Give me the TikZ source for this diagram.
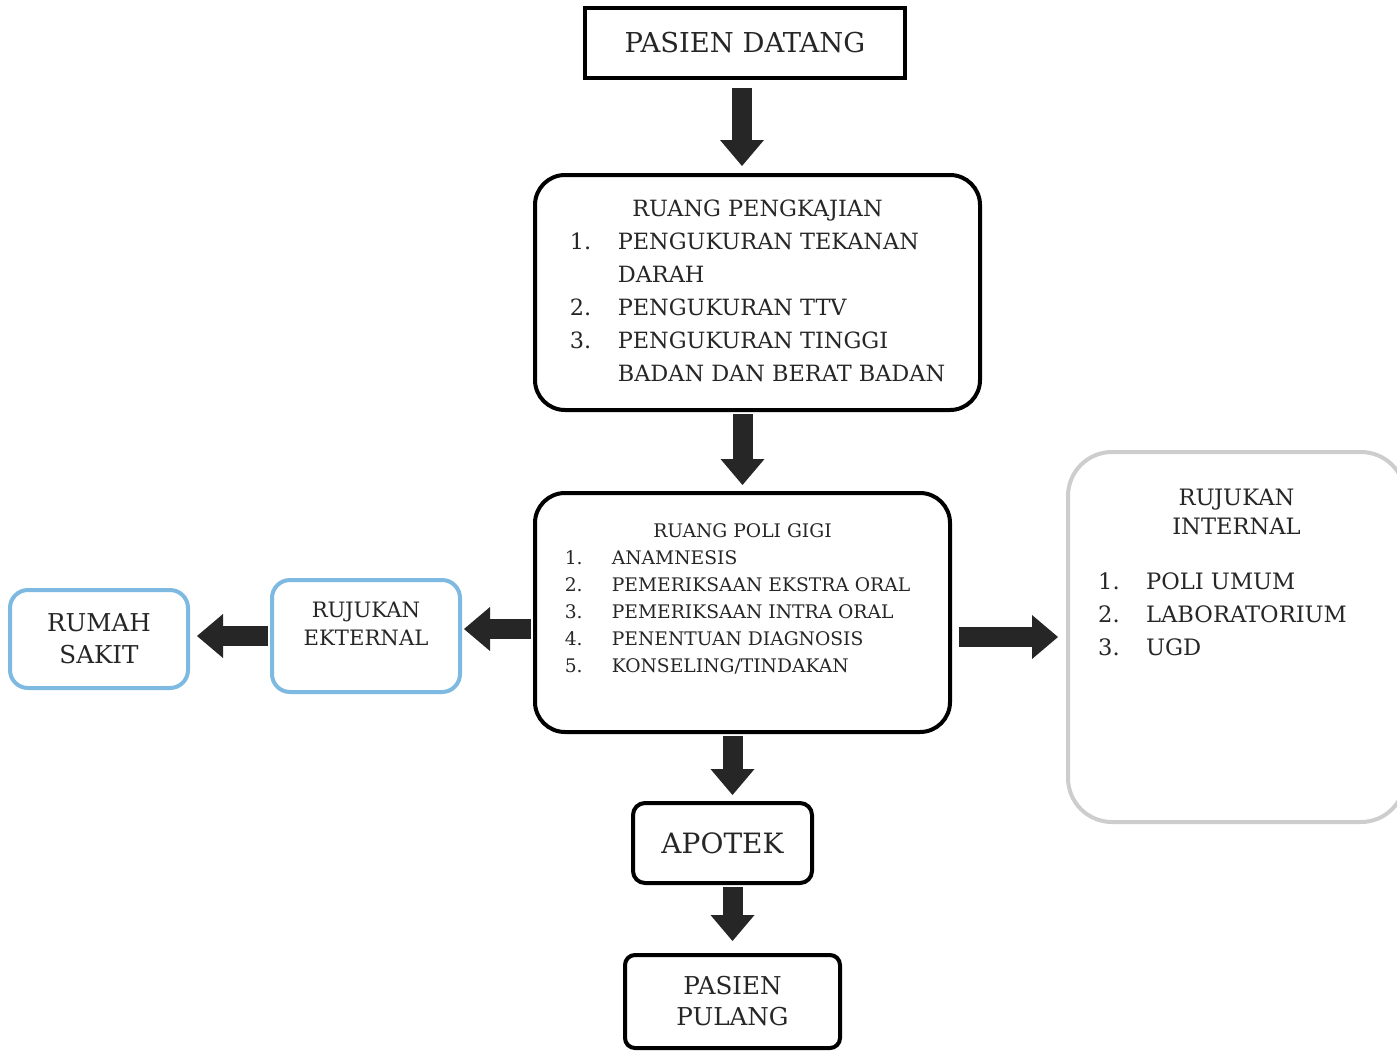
\documentclass[tikz,border=0pt]{standalone}
\usepackage{fontspec}
\setmainfont{DejaVu Serif}
\usetikzlibrary{arrows.meta}
\definecolor{bluebox}{RGB}{125,185,225}
\definecolor{greybox}{RGB}{205,205,205}

\begin{document}
\begin{tikzpicture}[x=0.5pt,y=-0.5pt]
 \tikzset{box/.style={draw=black,line width=2pt,text=black!85,inner sep=0pt,align=center},
  bluebox/.style={box,draw=bluebox,rounded corners=9pt},
  arrow/.style={line width=10pt,draw=black!85,-{Triangle[length=13pt,width=22pt,line width=0pt]},shorten <=1pt,shorten >=3pt}}
 \useasboundingbox (0,0) rectangle (1397,1050);

 \node[box,minimum width=160pt,minimum height=35pt,font=\fontsize{13.7}{16}\selectfont] (datang) at (745,43) {PASIEN DATANG};
 \node[box,rounded corners=15pt,minimum width=222.5pt,minimum height=117.5pt,font=\fontsize{11.2}{16.5}\selectfont] (kajian) at (757.5,292.5) {%
  \begin{tabular}{@{}p{24pt}@{}l@{}}
   \multicolumn{2}{c}{RUANG PENGKAJIAN}\\
   1. & PENGUKURAN TEKANAN\\
      & DARAH\\
   2. & PENGUKURAN TTV\\
   3. & PENGUKURAN TINGGI\\
      & BADAN DAN BERAT BADAN
  \end{tabular}};
 \node[box,rounded corners=15pt,minimum width=207.5pt,minimum height=119.5pt,font=\fontsize{9.35}{13.5}\selectfont] (poli) at (742.5,612.5) {%
  \begin{tabular}{@{}p{23.5pt}@{}l@{\hspace{5pt}}}
   \multicolumn{2}{c}{RUANG POLI GIGI}\\
   1. & ANAMNESIS\\
   2. & PEMERIKSAAN EKSTRA ORAL\\
   3. & PEMERIKSAAN INTRA ORAL\\
   4. & PENENTUAN DIAGNOSIS\\
   5. & KONSELING/TINDAKAN\rule[-17pt]{0pt}{0pt}
  \end{tabular}};
 \node[bluebox,minimum width=94pt,minimum height=56pt,font=\fontsize{10.6}{14}\selectfont] (ekternal) at (366,636) {%
  \begin{tabular}{@{}c@{}}RUJUKAN\\EKTERNAL\rule[-14pt]{0pt}{0pt}\end{tabular}};
 \node[bluebox,minimum width=89pt,minimum height=49pt,font=\fontsize{12.3}{16}\selectfont] (rumah) at (99,639) {RUMAH\\SAKIT};
 \node[box,draw=greybox,rounded corners=22pt,minimum width=168.5pt,minimum height=185pt,font=\fontsize{11.3}{16.5}\selectfont] (internal) at (1236.5,637) {%
  \begin{tabular}{@{}p{24pt}@{}l@{\hspace{14pt}}}
   \multicolumn{2}{c}{RUJUKAN}\\[-2pt]
   \multicolumn{2}{c}{INTERNAL}\\[11pt]
   1. & POLI UMUM\\
   2. & LABORATORIUM\\
   3. & UGD\rule[-68pt]{0pt}{0pt}
  \end{tabular}};
 \node[box,rounded corners=6pt,minimum width=89.5pt,minimum height=40pt,font=\fontsize{14}{16}\selectfont] (apotek) at (722.5,843) {APOTEK};
 \node[box,rounded corners=5pt,minimum width=107.5pt,minimum height=46.5pt,font=\fontsize{12.3}{15.5}\selectfont] (pulang) at (732.5,1001.5) {PASIEN\\PULANG};

 \draw[arrow,shorten <=4pt,shorten >=3.5pt] ([xshift=-1.5pt]datang.south) to ([xshift=-1.5pt]datang.south |- kajian.north);
 \draw[arrow] (poli.north |- kajian.south) to (poli.north);
 \draw[arrow,shorten >=1pt] ([yshift=3.5pt]poli.west |- ekternal.east) to ([yshift=3.5pt]ekternal.east);
 \draw[arrow,shorten >=3.5pt] (ekternal.west) to (ekternal.west -| rumah.east);
 \draw[arrow,shorten <=3.5pt,shorten >=4pt] (poli.east |- internal.west) to (internal.west);
 \draw[arrow] ([xshift=5pt]apotek.north |- poli.south) to ([xshift=5pt]apotek.north);
 \draw[arrow,shorten >=6pt] (pulang.north |- apotek.south) to (pulang.north);
\end{tikzpicture}
\end{document}
